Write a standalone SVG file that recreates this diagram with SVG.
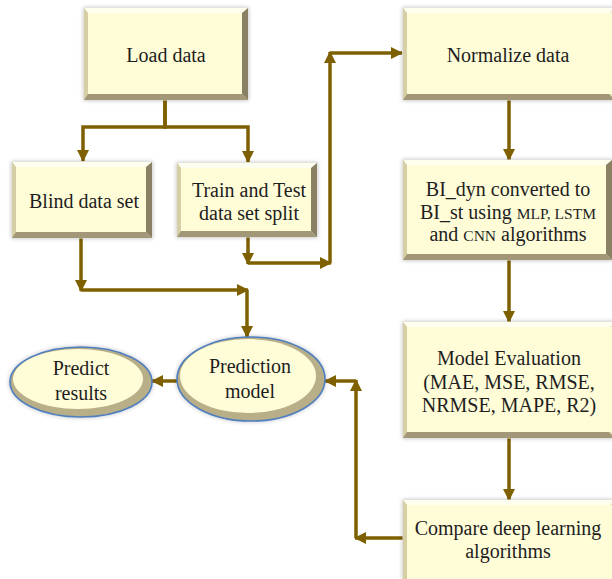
<svg xmlns="http://www.w3.org/2000/svg" width="612" height="579" viewBox="0 0 612 579">
<style>
.out{fill:#E9E2BC;stroke:#D6D6D6;stroke-width:1;filter:url(#sh)}
.tp{fill:#FFFFF0}
.lf{fill:#D6CEA4}
.rt{fill:#8A8064}
.bt{fill:#A29878}
.face{fill:#FFFCD8}
.t{font-family:"Liberation Serif","Times New Roman",serif;font-size:20px;fill:#1E1E1E;text-anchor:middle}
.sm{font-size:15.5px}
.c{fill:none;stroke:#7F6000;stroke-width:3.5;marker-end:url(#ah)}
.eo{fill:#B8AE88;stroke:#4F7FBE;stroke-width:1.6;filter:url(#sh)}
.ei{fill:#FFFCD8}
</style>
<defs>
<filter id="sh" x="-10%" y="-10%" width="120%" height="120%">
<feGaussianBlur in="SourceAlpha" stdDeviation="2"/>
<feComponentTransfer><feFuncA type="linear" slope="0.25"/></feComponentTransfer>
<feMerge><feMergeNode/><feMergeNode in="SourceGraphic"/></feMerge>
</filter>
<marker id="ah" markerUnits="userSpaceOnUse" markerWidth="14" markerHeight="14" viewBox="0 0 14 14" refX="12" refY="7" orient="auto">
<path d="M1,1 L13,7 L1,13 z" fill="#7F6000"/>
</marker>
</defs>

<g id="connectors">
<path class="c" d="M165,100 V127 H83 V161"/>
<path class="c" d="M165,100 V127 H248 V162"/>
<path class="c" d="M248,237 V264"/>
<path class="c" d="M248,263 H331"/>
<path class="c" d="M330,263 V52"/>
<path class="c" d="M330,53 H402"/>
<path class="c" d="M81,238 V291"/>
<path class="c" d="M81,290 H248"/>
<path class="c" d="M247,290 V337"/>
<path class="c" d="M509,100 V160"/>
<path class="c" d="M509,260 V322"/>
<path class="c" d="M509,438 V500"/>
<path class="c" d="M403,538 H355"/>
<path class="c" d="M356,538 V380"/>
<path class="c" d="M356,381 H325"/>
<path class="c" d="M177,381 H152"/>
</g>

<g id="load">
<rect class="out" x="84" y="8" width="164" height="92"/>
<polygon class="tp" points="84,8 248,8 243,13 88,13"/>
<polygon class="lf" points="84,8 88,13 88,95 84,100"/>
<polygon class="rt" points="248,8 248,100 242,94 242,13"/>
<polygon class="bt" points="84,100 248,100 242,94 88,94"/>
<rect class="face" x="88" y="13" width="154" height="81"/>
<text class="t" x="166" y="62">Load data</text>
</g>

<g id="blind">
<rect class="out" x="12" y="162" width="140" height="76"/>
<polygon class="tp" points="12,162 152,162 147,167 16,167"/>
<polygon class="lf" points="12,162 16,167 16,233 12,238"/>
<polygon class="rt" points="152,162 152,238 146,232 146,167"/>
<polygon class="bt" points="12,238 152,238 146,232 16,232"/>
<rect class="face" x="16" y="167" width="130" height="65"/>
<text class="t" x="84" y="208">Blind data set</text>
</g>

<g id="split">
<rect class="out" x="177" y="163" width="140" height="74"/>
<polygon class="tp" points="177,163 317,163 312,168 181,168"/>
<polygon class="lf" points="177,163 181,168 181,232 177,237"/>
<polygon class="rt" points="317,163 317,237 311,231 311,168"/>
<polygon class="bt" points="177,237 317,237 311,231 181,231"/>
<rect class="face" x="181" y="168" width="130" height="63"/>
<text class="t" x="249" y="197">Train and Test</text>
<text class="t" x="249" y="220">data set split</text>
</g>

<g id="normalize">
<rect class="out" x="403" y="8" width="212" height="92"/>
<polygon class="tp" points="403,8 615,8 610,13 407,13"/>
<polygon class="lf" points="403,8 407,13 407,95 403,100"/>
<polygon class="bt" points="403,100 615,100 609,94 407,94"/>
<rect class="face" x="407" y="13" width="208" height="81"/>
<text class="t" x="508" y="62">Normalize data</text>
</g>

<g id="convert">
<rect class="out" x="403" y="160" width="209" height="100"/>
<polygon class="tp" points="403,160 612,160 607,165 407,165"/>
<polygon class="lf" points="403,160 407,165 407,255 403,260"/>
<polygon class="rt" points="612,160 612,260 606,254 606,165"/>
<polygon class="bt" points="403,260 612,260 606,254 407,254"/>
<rect class="face" x="407" y="165" width="199" height="89"/>
<text class="t" x="508" y="196">BI_dyn converted to</text>
<text class="t" x="508" y="219">BI_st using <tspan class="sm">MLP, LSTM</tspan></text>
<text class="t" x="508" y="241">and <tspan class="sm">CNN</tspan> algorithms</text>
</g>

<g id="evaluation">
<rect class="out" x="403" y="322" width="212" height="116"/>
<polygon class="tp" points="403,322 615,322 610,327 407,327"/>
<polygon class="lf" points="403,322 407,327 407,433 403,438"/>
<polygon class="bt" points="403,438 615,438 609,432 407,432"/>
<rect class="face" x="407" y="327" width="208" height="105"/>
<text class="t" x="509" y="365">Model Evaluation</text>
<text class="t" x="509" y="389">(MAE, MSE, RMSE,</text>
<text class="t" x="509" y="412">NRMSE, MAPE, R2)</text>
</g>

<g id="compare">
<rect class="out" x="403" y="500" width="212" height="80"/>
<polygon class="tp" points="403,500 615,500 610,505 407,505"/>
<polygon class="lf" points="403,500 407,505 407,580 403,580"/>
<rect class="face" x="407" y="505" width="208" height="75"/>
<text class="t" x="508" y="535">Compare deep learning</text>
<text class="t" x="508" y="558">algorithms</text>
</g>

<g id="prediction-model">
<ellipse class="eo" cx="251" cy="379" rx="74" ry="42"/>
<ellipse class="ei" cx="248" cy="376" rx="68" ry="37"/>
<text class="t" x="250" y="373">Prediction</text>
<text class="t" x="250" y="398">model</text>
</g>

<g id="predict-results">
<ellipse class="eo" cx="81" cy="382" rx="71" ry="35"/>
<ellipse class="ei" cx="78" cy="379" rx="65" ry="30"/>
<text class="t" x="81" y="375">Predict</text>
<text class="t" x="81" y="400">results</text>
</g>
</svg>
